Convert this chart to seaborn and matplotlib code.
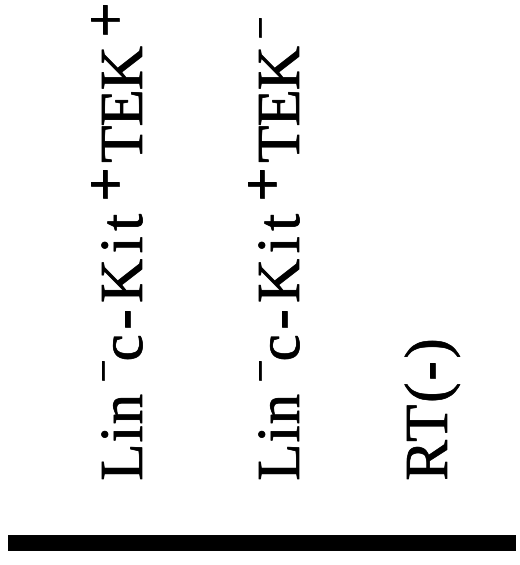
import matplotlib
matplotlib.use('Agg')
import matplotlib.pyplot as plt
import matplotlib.patheffects as pe
from matplotlib.textpath import TextPath
from matplotlib.font_manager import FontProperties
import seaborn as sns

# lane labels, read bottom to top, split into (text, kind) pieces
lane_1 = [('Lin', 'main'), ('\u2212', 'sup'), ('c-Kit', 'main'), ('+', 'sup'), ('TEK', 'main'), ('+', 'sup')]
lane_2 = [('Lin', 'main'), ('\u2212', 'sup'), ('c-Kit', 'main'), ('+', 'sup'), ('TEK', 'main'), ('\u2212', 'sup')]
lane_3 = [('RT(-)', 'main')]
lanes = [lane_1, lane_2, lane_3]

sns.set_style('white')
plt.rcParams['font.family'] = ['Liberation Serif', 'DejaVu Serif']

fig = plt.figure(figsize=(5.2, 5.65), dpi=100)
ax = fig.add_axes([0, 0, 1, 1])
ax.set_xlim(0, 520)
ax.set_ylim(565, 0)
ax.axis('off')

# layout (pixels)
baseline_x = [142, 299, 447]
start_y = 479
fs = 44
sup_size = {'+': 44, '\u2212': 29}
sup_center = {'+': 37, '\u2212': 39}  # centre of the sign above the baseline
tracking = {'Lin': 1, 'c-Kit': 5.5, 'TEK': -1, 'RT(-)': 1.75}
piece_gaps = [[15, 2, 16, 8, 13], [15, 2, 16, 8, 10], []]
thick = [pe.Stroke(linewidth=0.5, foreground='black'), pe.Normal()]

fp = FontProperties(family='Liberation Serif')
px = fig.dpi / 72


def ink(s, size):
    return TextPath((0, 0), s, size=size * px, prop=fp).get_extents()


def put(s, x, y, size):
    # ink of s starts at y and runs upward; returns y where the ink ends
    e = ink(s, size)
    ax.text(x, y + e.x0, s, rotation=90, rotation_mode='anchor', ha='left',
            va='baseline', fontsize=size, color='black', path_effects=thick)
    return y - e.width


for lane, xb, gaps in zip(lanes, baseline_x, piece_gaps):
    y = start_y
    for i, (txt, kind) in enumerate(lane):
        if i > 0:
            y -= gaps[i - 1]
        if kind == 'sup':
            size = sup_size[txt]
            e = ink(txt, size)
            lift = sup_center[txt] - (e.y0 + e.y1) / 2
            y = put(txt, xb - lift, y, size)
        else:
            for j, ch in enumerate(txt):
                if j > 0:
                    prev = txt[j - 1]
                    nat = ink(prev + ch, fs).width - ink(prev, fs).width - ink(ch, fs).width
                    y -= nat + tracking[txt]
                y = put(ch, xb, y, fs)

# thick black rule under the lanes
ax.hlines(543, 8, 516, color='black', linewidth=11.5, capstyle='butt')

fig.savefig('out.png', dpi=100, facecolor='white')
